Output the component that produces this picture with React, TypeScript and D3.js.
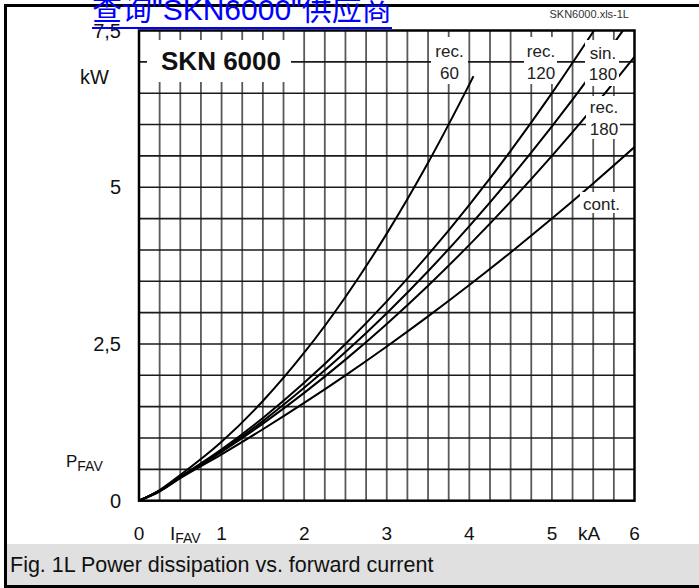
import React, { useEffect, useRef } from 'react';
import * as d3 from 'd3';

// forward current (kA) / power dissipation (kW)
const contI = [0, 0.25, 0.5, 1, 1.5, 2, 2.5, 3, 3.5, 4, 4.5, 5, 5.5, 6];
const contP = [0, 0.15, 0.36, 0.74, 1.14, 1.56, 2.0, 2.46, 2.94, 3.44, 3.96, 4.5, 5.06, 5.64];
const rec180I = [0, 0.25, 0.5, 1, 1.5, 2, 2.5, 3, 3.5, 4, 4.5, 5, 5.5, 6];
const rec180P = [0, 0.15, 0.37, 0.78, 1.23, 1.72, 2.25, 2.82, 3.43, 4.08, 4.77, 5.5, 6.27, 7.08];
const sin180I = [0, 0.25, 0.5, 1, 1.5, 2, 2.5, 3, 3.5, 4, 4.5, 5, 5.5, 5.86];
const sin180P = [0, 0.16, 0.37, 0.8, 1.27, 1.8, 2.37, 2.99, 3.66, 4.38, 5.15, 5.97, 6.84, 7.5];
const rec120I = [0, 0.25, 0.5, 1, 1.5, 2, 2.5, 3, 3.5, 4, 4.5, 5, 5.51];
const rec120P = [0, 0.16, 0.38, 0.82, 1.32, 1.88, 2.5, 3.18, 3.92, 4.72, 5.58, 6.5, 7.5];
const rec60I = [0, 0.25, 0.5, 1, 1.5, 2, 2.5, 3, 3.5, 4, 4.05];
const rec60P = [0, 0.17, 0.41, 0.94, 1.59, 2.36, 3.25, 4.26, 5.39, 6.64, 6.77];

const xTicks = [0, 1, 2, 3, 4, 5, 6];
const yTicks = [0, 2.5, 5, 7.5];

// label boxes [x, y, w, h] in px, text lines with baselines
const curveLabels = [
  { lines: ['rec.', '60'], cx: 449.5, base: [57, 78.5], box: [431, 37, 37, 47] },
  { lines: ['rec.', '120'], cx: 541, base: [57, 78.5], box: [524, 37, 33, 47] },
  { lines: ['sin.', '180'], cx: 603, base: [58.5, 80], box: [585, 40, 34, 46] },
  { lines: ['rec.', '180'], cx: 604, base: [113, 134.5], box: [586, 96, 34, 43] },
  { lines: ['cont.'], cx: 601.5, base: [209.5], box: [580, 192, 42, 21] },
];

const FONT = "'Liberation Sans', Arial, Helvetica, sans-serif";

const App: React.FC = () => {
  const svgRef = useRef<SVGSVGElement>(null);

  useEffect(() => {
    if (!svgRef.current) return;
    const svg = d3.select(svgRef.current);
    svg.selectAll('*').remove();

    const x = d3.scaleLinear().domain([0, 6]).range([139, 634.5]);
    const y = d3.scaleLinear().domain([0, 7.5]).range([500.7, 30.5]);

    // caption strip + outer frame
    svg.append('rect').attr('x', 6).attr('y', 544).attr('width', 693).attr('height', 42).attr('fill', '#e0e0e0');
    svg.append('text')
      .attr('x', 10).attr('y', 572)
      .attr('font-family', FONT).attr('font-size', 21.5).attr('fill', '#111')
      .text('Fig. 1L Power dissipation vs. forward current');
    svg.append('path')
      .attr('d', 'M699,5.5 H5.5 V586.5 H699')
      .attr('fill', 'none').attr('stroke', '#000').attr('stroke-width', 3);

    svg.append('text')
      .attr('x', 629).attr('y', 18).attr('text-anchor', 'end')
      .attr('font-family', FONT).attr('font-size', 11).attr('fill', '#333')
      .text('SKN6000.xls-1L');

    const defs = svg.append('defs');
    defs.append('clipPath').attr('id', 'plotClip')
      .append('rect')
      .attr('x', x(0)).attr('y', y(7.5))
      .attr('width', x(6) - x(0)).attr('height', y(0) - y(7.5));

    const grid = svg.append('g');
    grid.selectAll('line.v')
      .data(d3.range(1, 24).map(d => d * 0.25))
      .join('line')
      .attr('x1', d => x(d)).attr('x2', d => x(d))
      .attr('y1', y(0)).attr('y2', y(7.5))
      .attr('stroke', '#5a5a5a').attr('stroke-width', 1.8);
    grid.selectAll('line.h')
      .data(d3.range(1, 15).map(d => d * 0.5))
      .join('line')
      .attr('x1', x(0)).attr('x2', x(6))
      .attr('y1', d => y(d)).attr('y2', d => y(d))
      .attr('stroke', '#1a1a1a').attr('stroke-width', 1.6);

    const series = [
      { i: contI, p: contP },
      { i: rec180I, p: rec180P },
      { i: sin180I, p: sin180P },
      { i: rec120I, p: rec120P },
      { i: rec60I, p: rec60P },
    ];
    const line = d3.line<[number, number]>()
      .x(d => x(d[0]))
      .y(d => y(d[1]))
      .curve(d3.curveMonotoneX);

    svg.append('g').attr('clip-path', 'url(#plotClip)')
      .selectAll('path')
      .data(series)
      .join('path')
      .attr('d', s => line(s.i.map((v, k) => [v, s.p[k]] as [number, number])))
      .attr('fill', 'none').attr('stroke', '#000').attr('stroke-width', 2);

    // label boxes knock out grid and curves
    const lab = svg.append('g').attr('font-family', FONT).attr('font-size', 17).attr('fill', '#222');
    curveLabels.forEach(l => {
      lab.append('rect')
        .attr('x', l.box[0]).attr('y', l.box[1]).attr('width', l.box[2]).attr('height', l.box[3])
        .attr('fill', '#fff');
      l.lines.forEach((t, k) => {
        lab.append('text').attr('x', l.cx).attr('y', l.base[k]).attr('text-anchor', 'middle').text(t);
      });
    });

    svg.append('rect').attr('x', 147).attr('y', 40).attr('width', 144).attr('height', 42).attr('fill', '#fff');
    svg.append('text')
      .attr('x', 221).attr('y', 70).attr('text-anchor', 'middle')
      .attr('font-family', FONT).attr('font-size', 26).attr('font-weight', 'bold').attr('fill', '#111')
      .text('SKN 6000');

    svg.append('rect')
      .attr('x', x(0)).attr('y', y(7.5))
      .attr('width', x(6) - x(0)).attr('height', y(0) - y(7.5))
      .attr('fill', 'none').attr('stroke', '#000').attr('stroke-width', 2.5);

    // axes labels
    const axis = svg.append('g').attr('font-family', FONT).attr('fill', '#111');
    axis.selectAll('text.y')
      .data(yTicks)
      .join('text')
      .attr('x', 121).attr('y', d => y(d) + 7.2)
      .attr('text-anchor', 'end').attr('font-size', 20)
      .text(d => String(d).replace('.', ','));
    axis.selectAll('text.x')
      .data(xTicks)
      .join('text')
      .attr('x', d => x(d)).attr('y', 540)
      .attr('text-anchor', 'middle').attr('font-size', 19)
      .text(d => String(d));

    axis.append('text').attr('x', 80).attr('y', 84).attr('font-size', 20).text('kW');
    axis.append('text').attr('x', 578).attr('y', 540).attr('font-size', 19).text('kA');

    const pfav = axis.append('text').attr('x', 66).attr('y', 467).attr('font-size', 17);
    pfav.append('tspan').text('P');
    pfav.append('tspan').attr('dy', 4).attr('font-size', 14).text('FAV');

    const ifav = axis.append('text').attr('x', 170).attr('y', 540).attr('font-size', 19);
    ifav.append('tspan').text('I');
    ifav.append('tspan').attr('dy', 3).attr('font-size', 14).text('FAV');

    // link banner at the very top
    svg.append('text')
      .attr('x', 92).attr('y', 20)
      .attr('font-family', "'Liberation Sans', Arial, 'Noto Sans CJK SC', sans-serif")
      .attr('font-size', 30).attr('fill', '#0000ff')
      .text('查询"SKN6000"供应商');
    svg.append('line')
      .attr('x1', 92).attr('x2', 392).attr('y1', 28).attr('y2', 28)
      .attr('stroke', '#0000ff').attr('stroke-width', 2);
  }, []);

  return (
    <svg
      ref={svgRef}
      width={699}
      height={588}
      style={{ position: 'absolute', left: 0, top: 0, background: '#fff' }}
    />
  );
};

export default App;
